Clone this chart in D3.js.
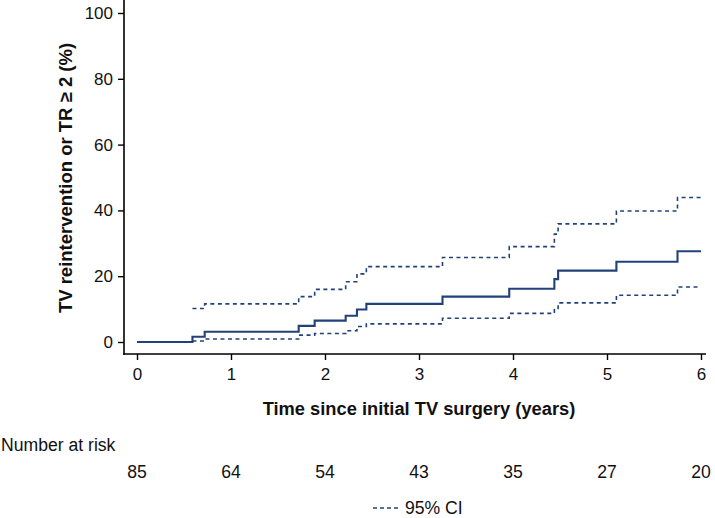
<!DOCTYPE html>
<html>
<head>
<meta charset="utf-8">
<script src="https://cdn.jsdelivr.net/npm/d3@7"></script>
<style>
  body { margin: 0; background: #fff; }
  svg { display: block; font-family: "Liberation Sans", Arial, Helvetica, sans-serif; }
</style>
</head>
<body>
<svg id="chart" width="715" height="518"></svg>
<script>
// ---- data ----
const times = [0, 0.59, 0.72, 1.72, 1.89, 2.22, 2.34, 2.44, 3.25, 3.96, 4.44, 4.48, 5.10, 5.75, 6.0];
const estimate = [0, 1.6, 3.1, 4.9, 6.5, 8.0, 9.9, 11.6, 13.8, 16.2, 19.1, 21.7, 24.4, 27.6, 27.6];
const ciTimes = [0.59, 0.72, 1.72, 1.89, 2.22, 2.34, 2.44, 3.25, 3.96, 4.44, 4.48, 5.10, 5.75, 6.0];
const upperCI = [10.2, 11.6, 13.8, 16.0, 18.3, 20.7, 22.9, 25.7, 29.0, 32.8, 35.9, 39.8, 43.9, 43.9];
const lowerCI = [0.3, 0.9, 2.1, 2.6, 3.4, 4.7, 5.5, 7.2, 8.7, 10.2, 11.9, 14.2, 16.7, 16.7];
const xTicks = [0, 1, 2, 3, 4, 5, 6];
const yTicks = [0, 20, 40, 60, 80, 100];
const atRisk = [85, 64, 54, 43, 35, 27, 20];

const navy = "#22417a";
const svg = d3.select("#chart");
const x = d3.scaleLinear().domain([0, 6]).range([137, 701]);
const y = d3.scaleLinear().domain([0, 100]).range([342, 13]);
const axisX = 124, axisY = 354;

// y axis
const yAxis = d3.axisLeft(y).tickValues(yTicks).tickSize(6).tickPadding(5);
const gy = svg.append("g").attr("transform", `translate(${axisX},0)`).call(yAxis);
gy.select(".domain").remove();
gy.append("line").attr("x1", 0).attr("x2", 0).attr("y1", 0).attr("y2", axisY + 0.75)
  .attr("stroke", "#000").attr("stroke-width", 1.6);
gy.selectAll(".tick line").attr("stroke", "#000").attr("stroke-width", 1.4);
gy.selectAll(".tick text").attr("font-size", 17).attr("fill", "#111").attr("font-family", "Liberation Sans, Arial, sans-serif");

// x axis
const xAxis = d3.axisBottom(x).tickValues(xTicks).tickFormat(d3.format("d")).tickSize(6).tickPadding(8);
const gx = svg.append("g").attr("transform", `translate(0,${axisY})`).call(xAxis);
gx.select(".domain").remove();
gx.append("line").attr("x1", axisX - 0.8).attr("x2", 706).attr("y1", 0).attr("y2", 0)
  .attr("stroke", "#000").attr("stroke-width", 1.6);
gx.selectAll(".tick line").attr("stroke", "#000").attr("stroke-width", 1.4);
gx.selectAll(".tick text").attr("font-size", 17).attr("fill", "#111").attr("font-family", "Liberation Sans, Arial, sans-serif");

// axis titles
svg.append("text")
  .attr("transform", `translate(72,178) rotate(-90)`)
  .attr("text-anchor", "middle")
  .attr("font-size", 18.5).attr("font-weight", "bold").attr("fill", "#111")
  .text("TV reintervention or TR \u2265 2 (%)");
svg.append("text")
  .attr("x", 419).attr("y", 415)
  .attr("text-anchor", "middle")
  .attr("font-size", 18.3).attr("font-weight", "bold").attr("fill", "#111")
  .text("Time since initial TV surgery (years)");

// curves
const line = d3.line().x(d => x(d[0])).y(d => y(d[1])).curve(d3.curveStepAfter);
svg.append("path").datum(ciTimes.map((t, i) => [t, upperCI[i]]))
  .attr("d", line).attr("fill", "none").attr("stroke", navy)
  .attr("stroke-width", 1.6).attr("stroke-dasharray", "4,3.5");
svg.append("path").datum(ciTimes.map((t, i) => [t, lowerCI[i]]))
  .attr("d", line).attr("fill", "none").attr("stroke", navy)
  .attr("stroke-width", 1.6).attr("stroke-dasharray", "4,3.5");
svg.append("path").datum(times.map((t, i) => [t, estimate[i]]))
  .attr("d", line).attr("fill", "none").attr("stroke", navy)
  .attr("stroke-width", 2.1);

// number at risk
svg.append("text").attr("x", 1).attr("y", 451)
  .attr("font-size", 17.6).attr("fill", "#111").text("Number at risk");
svg.append("g").selectAll("text").data(atRisk).join("text")
  .attr("x", (d, i) => x(xTicks[i])).attr("y", 478)
  .attr("text-anchor", "middle").attr("font-size", 17.6).attr("fill", "#111")
  .text(d => d);

// legend
svg.append("line").attr("x1", 373).attr("x2", 399).attr("y1", 508).attr("y2", 508)
  .attr("stroke", navy).attr("stroke-width", 1.6).attr("stroke-dasharray", "4,3");
svg.append("text").attr("x", 405).attr("y", 514)
  .attr("font-size", 17.6).attr("fill", "#111").text("95% CI");
</script>
</body>
</html>
